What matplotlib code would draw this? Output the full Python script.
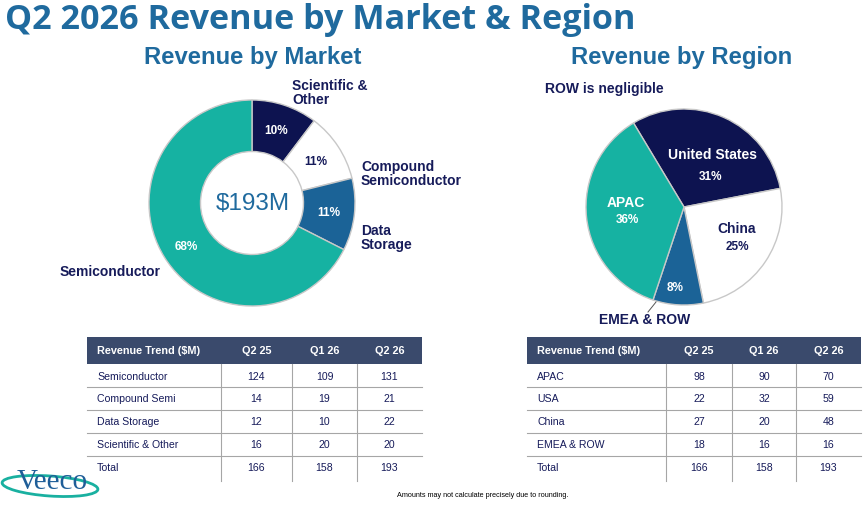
import matplotlib
matplotlib.use("Agg")
import matplotlib.pyplot as plt
from matplotlib.patches import Rectangle, Ellipse

# ---------------- data ----------------
market_labels = ["Scientific &\nOther", "Compound\nSemiconductor", "Data\nStorage", "Semiconductor"]
market_values = [20, 21, 22, 131]          # Q2 26, $M
market_pct = ["10%", "11%", "11%", "68%"]
total_label = "$193M"

region_labels = ["United States", "China", "EMEA & ROW", "APAC"]
region_values = [59, 48, 16, 70]           # Q2 26, $M
region_pct = ["31%", "25%", "8%", "36%"]

table_cols = ["Revenue Trend ($M)", "Q2 25", "Q1 26", "Q2 26"]
market_rows = ["Semiconductor", "Compound Semi", "Data Storage", "Scientific & Other", "Total"]
market_q2_25 = [124, 14, 12, 16, 166]
market_q1_26 = [109, 19, 10, 20, 158]
market_q2_26 = [131, 21, 22, 20, 193]

region_rows = ["APAC", "USA", "China", "EMEA & ROW", "Total"]
region_q2_25 = [98, 22, 27, 18, 166]
region_q1_26 = [90, 32, 20, 16, 158]
region_q2_26 = [70, 59, 48, 16, 193]

# ---------------- style ----------------
W, H = 866, 506
TEAL = "#16B2A2"
NAVY = "#0D1350"
BLUE = "#1B6397"
TITLE_BLUE = "#1F6A9E"
LABEL_NAVY = "#161B5A"
HEADER = "#3A4A6C"
GRID = "#A6A6A6"
SANS = ["Liberation Sans", "DejaVu Sans"]

fig = plt.figure(figsize=(W / 100, H / 100), dpi=100)
fig.patch.set_facecolor("white")

# overlay axes in pixel coordinates
ov = fig.add_axes([0, 0, 1, 1])
ov.set_xlim(0, W)
ov.set_ylim(H, 0)
ov.axis("off")
ov.set_zorder(5)
ov.patch.set_alpha(0)


def pix_axes(cx, cy, r):
    return fig.add_axes([(cx - r) / W, (H - cy - r) / H, 2 * r / W, 2 * r / H])


# titles
ov.text(5, 29, "Q2 2026 Revenue by Market & Region", fontsize=24.6, fontweight="bold",
        color=TITLE_BLUE, family=["Open Sans", "DejaVu Sans"], va="baseline", ha="left")
ov.text(253, 57, "Revenue by Market", fontsize=17.2, fontweight="bold", color=TITLE_BLUE,
        family=SANS, ha="center", va="center")
ov.text(682, 57, "Revenue by Region", fontsize=17.2, fontweight="bold", color=TITLE_BLUE,
        family=SANS, ha="center", va="center")

# ---------------- donut ----------------
ax1 = pix_axes(252, 204, 103)
wedges, _ = ax1.pie(market_values, colors=[NAVY, "white", BLUE, TEAL], startangle=90,
                    counterclock=False, radius=1,
                    wedgeprops=dict(width=0.5, edgecolor="#C8C8C8", linewidth=1.0))
ax1.set_xlim(-1, 1)
ax1.set_ylim(-1, 1)
ax1.set_aspect("equal")
ax1.axis("off")

pct_pos = [(276, 131), (316, 162), (329, 213), (186, 247)]
pct_col = ["white", LABEL_NAVY, "white", "white"]
for (x, y), t, c in zip(pct_pos, market_pct, pct_col):
    ov.text(x, y, t, color=c, fontsize=8.5, fontweight="bold", family=SANS, ha="center", va="center")
ov.text(253, 204, total_label, color=TITLE_BLUE, fontsize=17.5, family=SANS, ha="center", va="center")

lab_pos = [(292, 93, "left"), (361, 174, "left"), (361, 238, "left"), (161, 272, "right")]
for (x, y, ha), t in zip(lab_pos, market_labels):
    ov.text(x, y, t, color=LABEL_NAVY, fontsize=10, fontweight="bold", family=SANS,
            ha=ha, va="center", linespacing=1.0)

# ---------------- region pie ----------------
ax2 = pix_axes(684, 208, 98)
ax2.pie(region_values, colors=[NAVY, "white", BLUE, TEAL], startangle=121,
        counterclock=False, radius=1,
        wedgeprops=dict(edgecolor="#C8C8C8", linewidth=1.0))
ax2.set_xlim(-1, 1)
ax2.set_ylim(-1, 1)
ax2.set_aspect("equal")
ax2.axis("off")

ov.text(545, 89, "ROW is negligible", color=LABEL_NAVY, fontsize=10, fontweight="bold",
        family=SANS, ha="left", va="center")
ov.text(713, 155, region_labels[0], color="white", fontsize=10, fontweight="bold", family=SANS,
        ha="center", va="center")
ov.text(711, 177, region_pct[0], color="white", fontsize=8.5, fontweight="bold", family=SANS,
        ha="center", va="center")
ov.text(737, 229, region_labels[1], color=LABEL_NAVY, fontsize=10, fontweight="bold", family=SANS,
        ha="center", va="center")
ov.text(737, 247, region_pct[1], color=LABEL_NAVY, fontsize=8.5, fontweight="bold", family=SANS,
        ha="center", va="center")
ov.text(626, 203, region_labels[3], color="white", fontsize=10, fontweight="bold", family=SANS,
        ha="center", va="center")
ov.text(627, 220, region_pct[3], color="white", fontsize=8.5, fontweight="bold", family=SANS,
        ha="center", va="center")
ov.text(675, 288, region_pct[2], color="white", fontsize=8.5, fontweight="bold", family=SANS,
        ha="center", va="center")
ov.plot([656, 648], [303, 313], color="#555555", lw=0.7)
ov.text(645, 320, region_labels[2], color=LABEL_NAVY, fontsize=10, fontweight="bold", family=SANS,
        ha="center", va="center")


# ---------------- tables ----------------
def draw_table(x_edges, rows, c1, c2, c3):
    top, hdr_bot = 338, 365
    row_h = 23
    # header
    ov.add_patch(Rectangle((x_edges[0], top), x_edges[-1] - x_edges[0], hdr_bot - top,
                           facecolor=HEADER, edgecolor="none"))
    for i, name in enumerate(table_cols):
        if i == 0:
            ov.text(x_edges[0] + 10, (top + hdr_bot) / 2, name, color="white", fontsize=7.8,
                    fontweight="bold", family=SANS, ha="left", va="center")
        else:
            ov.text((x_edges[i] + x_edges[i + 1]) / 2, (top + hdr_bot) / 2, name, color="white",
                    fontsize=7.8, fontweight="bold", family=SANS, ha="center", va="center")
    n = len(rows)
    bottom = hdr_bot + n * row_h + 2
    for k in range(1, n):
        y = hdr_bot + k * row_h
        ov.plot([x_edges[0], x_edges[-1]], [y, y], color=GRID, lw=0.8)
    for xe in x_edges[1:-1]:
        ov.plot([xe, xe], [hdr_bot, bottom], color=GRID, lw=0.8)
    for k, name in enumerate(rows):
        yc = hdr_bot + k * row_h + row_h / 2
        ov.text(x_edges[0] + 10, yc, name, color=LABEL_NAVY, fontsize=7.6, family=SANS,
                ha="left", va="center")
        for j, vals in enumerate([c1, c2, c3]):
            ov.text((x_edges[j + 1] + x_edges[j + 2]) / 2, yc, str(vals[k]), color=LABEL_NAVY,
                    fontsize=7.6, family=SANS, ha="center", va="center")


draw_table([87, 221, 292, 357, 422], market_rows, market_q2_25, market_q1_26, market_q2_26)
draw_table([527, 666, 732, 796, 861], region_rows, region_q2_25, region_q1_26, region_q2_26)

# footnote
ov.text(483, 496, "Amounts may not calculate precisely due to rounding.", fontsize=5.2,
        color="black", family=SANS, ha="center", va="center")

# logo
ov.add_patch(Ellipse((50, 487), 96, 20, angle=4, facecolor="none", edgecolor="#19B0A0", lw=2.0))
ov.text(52, 482, "Veeco", fontsize=21, family=["Liberation Serif", "DejaVu Serif"],
        color="#1F5E98", ha="center", va="center")

fig.savefig("out.png", dpi=100, facecolor="white")
